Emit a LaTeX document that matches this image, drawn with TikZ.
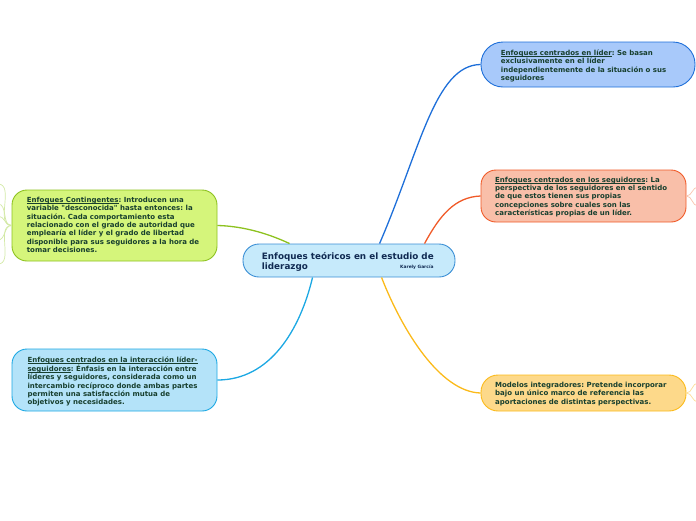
\documentclass[tikz,border=0pt]{standalone}
\usepackage{fontspec}
\setmainfont{DejaVu Sans}
\newfontfamily\dvs{DejaVu Sans}
\usetikzlibrary{calc}
\definecolor{txtc}{HTML}{173F2E}
\definecolor{ctxt}{HTML}{102A52}
\definecolor{cfill}{HTML}{C6EAFB}\definecolor{cdraw}{HTML}{3B8FD5}
\definecolor{bfill}{HTML}{A8C9FA}\definecolor{bdraw}{HTML}{1E6FD9}
\definecolor{ofill}{HTML}{F9BFA9}\definecolor{odraw}{HTML}{F05A28}
\definecolor{yfill}{HTML}{FDD98A}\definecolor{ydraw}{HTML}{FBBA1A}
\definecolor{gfill}{HTML}{D5F57B}\definecolor{gdraw}{HTML}{8DC21F}
\definecolor{lfill}{HTML}{B4E3F9}\definecolor{ldraw}{HTML}{1CA8E3}
\definecolor{gstub}{HTML}{D3E9A6}\definecolor{ostub}{HTML}{F8C3AD}\definecolor{ystub}{HTML}{FCDD98}
\tikzset{
  box/.style={draw, line width=0.9pt, inner sep=0pt},
  txt/.style={inner sep=0pt, anchor=base west, text=txtc, font=\dvs\bfseries\frenchspacing\fontsize{7}{8.4}\selectfont},
  link/.style={line width=1.3pt},
  stub/.style={line width=0.7pt},
}
\newcommand{\lines}[1]{\begin{tabular}[t]{@{}l@{}}#1\end{tabular}}
\newcommand{\myul}[1]{\setbox0=\hbox{#1}\rlap{\rule[-1.3pt]{\wd0}{0.5pt}}\box0}
\begin{document}
\begin{tikzpicture}[x=1pt,y=-1pt]
\useasboundingbox (0,0) rectangle (696,520);

% boxes
\node[box, fill=cfill, draw=cdraw, minimum width=212pt, minimum height=33pt, rounded corners=16pt] (central) at (349,260.5) {};
\node[box, fill=bfill, draw=bdraw, minimum width=214pt, minimum height=45pt, rounded corners=22pt] (lider) at (588,64.5) {};
\node[box, fill=ofill, draw=odraw, minimum width=205pt, minimum height=52pt, rounded corners=15pt] (seg) at (583.5,196) {};
\node[box, fill=yfill, draw=ydraw, minimum width=205pt, minimum height=36pt, rounded corners=17pt] (integ) at (583.5,393) {};
\node[box, fill=gfill, draw=gdraw, minimum width=205pt, minimum height=71pt, rounded corners=15pt] (cont) at (114.5,225.5) {};
\node[box, fill=lfill, draw=ldraw, minimum width=205pt, minimum height=62pt, rounded corners=15pt] (inter) at (114.5,380) {};

% connectors
\coordinate (cB) at ($(central.north west)+(137,0)$);
\coordinate (cO) at ($(central.north west)+(182,0)$);
\coordinate (cG) at ($(central.north west)+(47,0)$);
\coordinate (cL) at ($(central.south west)+(70,0)$);
\coordinate (cY) at ($(central.south west)+(139,0)$);
\draw[link, draw=bdraw] (cB) .. controls (420,150) and (435,65) .. (lider.west);
\draw[link, draw=odraw] (cO) .. controls (440,215) and (455,197) .. (seg.west);
\draw[link, draw=gdraw] (cG) .. controls (265,232) and (240,226) .. (cont.east);
\draw[link, draw=ldraw] (cL) .. controls (300,330) and (270,380) .. (inter.east);
\draw[link, draw=ydraw] (cY) .. controls (402,330) and (440,392) .. (integ.west);

% stubs to children outside the view
\coordinate (g1) at (-2,184); \coordinate (g2) at (-2,204); \coordinate (g3) at (-2,216);
\coordinate (g4) at (-2,240); \coordinate (g5) at (-2,264);
\foreach \c in {g1,g2,g3,g4,g5} \draw[stub, draw=gstub] (cont.west) to[out=180,in=0] (\c);
\coordinate (o1) at (698,187); \coordinate (o2) at (698,206);
\foreach \c in {o1,o2} \draw[stub, draw=ostub] (seg.east) to[out=0,in=180] (\c);
\coordinate (y1) at (698,383); \coordinate (y2) at (698,402);
\foreach \c in {y1,y2} \draw[stub, draw=ystub] (integ.east) to[out=0,in=180] (\c);

% texts
\node[inner sep=0pt, anchor=base west, text=ctxt, font=\dvs\bfseries\fontsize{8.8}{10}\selectfont] (centralT) at (261.7,259.3)
  {\lines{Enfoques teóricos en el estudio de\\liderazgo}};
\node[inner sep=0pt, anchor=base west, text=ctxt, font=\dvs\bfseries\fontsize{4.4}{5}\selectfont] (author) at (400,268.7) {Karely García};

\node[txt] (liderT) at (500.7,55.5) {\lines{\myul{Enfoques centrados en líder}: Se basan\\exclusivamente en el líder\\independientemente de la situación o sus\\seguidores}};
\node[txt] (segT) at (495,182) {\lines{\myul{Enfoques centrados en los seguidores}: La\\perspectiva de los seguidores en el sentido\\de que estos tienen sus propias\\concepciones sobre cuales son las\\características propias de un líder.}};
\node[txt] (integT) at (495,387.3) {\lines{Modelos integradores: Pretende incorporar\\bajo un único marco de referencia las\\aportaciones de distintas perspectivas.}};
\node[txt] (contT) at (26.7,202.3) {\lines{\myul{Enfoques Contingentes}: Introducen una\\variable "desconocida" hasta entonces: la\\situación. Cada comportamiento esta\\relacionado con el grado de autoridad que\\emplearía el líder y el grado de libertad\\disponible para sus seguidores a la hora de\\tomar decisiones.}};
\node[txt] (interT) at (27.3,362.3) {\lines{\myul{Enfoques centrados en la interacción líder-}\\\myul{seguidores}: Énfasis en la interacción entre\\líderes y seguidores, considerada como un\\intercambio recíproco donde ambas partes\\permiten una satisfacción mutua de\\objetivos y necesidades.}};
\end{tikzpicture}
\end{document}
